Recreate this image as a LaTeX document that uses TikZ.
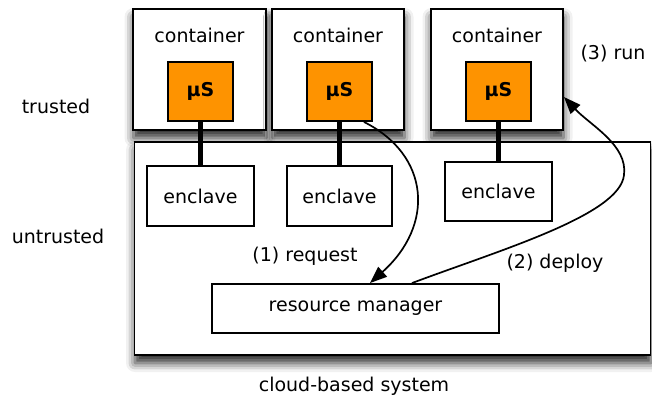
\documentclass[tikz,border=0pt]{standalone}
\usepackage{fontspec}
\setmainfont{DejaVu Sans}
\usetikzlibrary{arrows.meta, shadows.blur}
\definecolor{msorange}{RGB}{254,147,0}

\begin{document}
\begin{tikzpicture}[x=1pt,y=-1pt,font=\fontsize{19}{22}\selectfont,
	box/.style={draw,line width=1.9pt,fill=white,inner sep=0pt},
	shadebox/.style={box,blur shadow={shadow xshift=0.5pt,shadow yshift=-8pt,shadow blur radius=9pt,shadow opacity=85}},
	ms/.style={box,fill=msorange,minimum width=65pt,minimum height=59pt,font=\fontsize{19}{22}\selectfont\bfseries},
	link/.style={line width=4.5pt},
	flow/.style={-{Triangle[length=17pt,width=13pt]},line width=1.7pt}]
	\useasboundingbox (0,0) rectangle (652,397);
	\node[shadebox,minimum width=133pt,minimum height=121pt] (c1) at (199.5,69.5) {}; %コンテナ
	\node[shadebox,minimum width=132pt,minimum height=121pt] (c2) at (338,69.5) {};
	\node[shadebox,minimum width=132pt,minimum height=121pt] (c3) at (497,69.5) {};
	\node[shadebox,minimum width=516pt,minimum height=213pt] (sys) at (392.5,248.5) {}; %クラウド
	\node (t1) at (199.5,35) {container};
	\node (t2) at (338,35) {container};
	\node (t3) at (497,35) {container};
	\node[ms] (ms1) at (200.5,91.5) {μS};
	\node[ms] (ms2) at (339.5,91.5) {μS};
	\node[ms] (ms3) at (498.5,91.5) {μS};
	\node[box,minimum width=107pt,minimum height=60pt] (e1) at (200.5,196) {enclave}; %エンクレーブ
	\node[box,minimum width=105pt,minimum height=60pt] (e2) at (339.5,196) {enclave};
	\node[box,minimum width=107pt,minimum height=59pt] (e3) at (498.5,191.5) {enclave};
	\node[box,minimum width=287pt,minimum height=49pt] (rm) at (355.5,308.5) {resource manager};
	\draw[link] (ms1.south)--(e1.north);
	\draw[link] (ms2.south)--(e2.north);
	\draw[link] (ms3.south)--(e3.north);
	\draw[flow] ([xshift=-9pt]ms2.south east) .. controls (430,155) and (435,225) .. ([xshift=14.5pt]rm.north); %要求
	\draw[flow] ([xshift=56.5pt]rm.north) .. controls (500,250) and (620,215) .. (624,175)
		.. controls (628,145) and (590,125) .. (c3.east|-0,97); %配置
	\node (req) at (305,256) {(1) request};
	\node (dep) at (555,263) {(2) deploy};
	\node (run) at (613,54) {(3) run};
	\node (tr) at (56,106) {trusted};
	\node (ut) at (58,236) {untrusted};
	\node (cb) at (354,386) {cloud-based system};
\end{tikzpicture}
\end{document}
